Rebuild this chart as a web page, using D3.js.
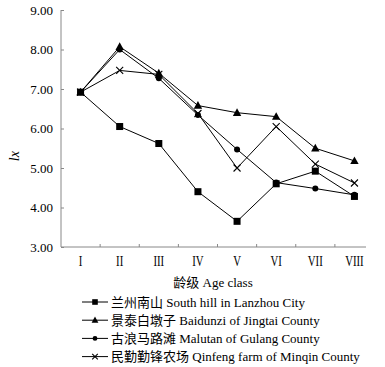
<!DOCTYPE html>
<html>
<head>
<meta charset="utf-8">
<script src="https://cdn.jsdelivr.net/npm/d3@7"></script>
<style>
  body { margin: 0; background: #fff; }
  text { font-family: "Liberation Serif", "Noto Sans CJK SC", serif; fill: #000; }
</style>
</head>
<body>
<div id="chart"></div>
<script>
const W = 385, H = 367;
const margin = {top: 10, left: 61};
const plotW = 313, plotH = 237;

// age classes
const ageClasses = ["I", "II", "III", "IV", "V", "VI", "VII", "VIII"];
const yTicks = [3, 4, 5, 6, 7, 8, 9];

// lx values per site
const lanzhou = [6.92, 6.05, 5.62, 4.40, 3.65, 4.60, 4.92, 4.28];
const jingtai = [6.92, 8.07, 7.40, 6.58, 6.40, 6.30, 5.50, 5.18];
const gulang  = [6.92, 8.00, 7.27, 6.34, 5.47, 4.63, 4.48, 4.32];
const minqin  = [6.92, 7.47, 7.37, 6.38, 5.00, 6.05, 5.10, 4.62];

const seriesNames = [
  "兰州南山 South hill in Lanzhou City",
  "景泰白墩子 Baidunzi of Jingtai County",
  "古浪马路滩 Malutan of Gulang County",
  "民勤勤锋农场 Qinfeng farm of Minqin County"
];
const markers = ["square", "triangle", "circle", "cross"];
const allSeries = [lanzhou, jingtai, gulang, minqin];

const svg = d3.select("#chart").append("svg")
  .attr("width", W).attr("height", H);

const g = svg.append("g").attr("transform", `translate(${margin.left},${margin.top})`);

const x = d3.scaleBand().domain(ageClasses).range([0, plotW]);
const y = d3.scaleLinear().domain([3, 9]).range([plotH, 0]);

// y axis
const yAxis = g.append("g")
  .call(d3.axisLeft(y).tickValues(yTicks).tickFormat(d3.format(".2f")).tickSize(-3).tickPadding(8));
yAxis.select(".domain").attr("stroke", "#888").attr("d", `M0,0V${plotH}`);
yAxis.selectAll(".tick line").attr("stroke", "#888");
yAxis.selectAll("text").style("font-size", "13px").attr("font-family", null);

// x axis with ticks between classes
const xAxis = g.append("g").attr("transform", `translate(0,${plotH})`)
  .call(d3.axisBottom(x).tickSize(0).tickPadding(8));
xAxis.select(".domain").attr("stroke", "#888").attr("d", `M0,0H${plotW - 8}`);
xAxis.selectAll("text").style("font-size", "15px").attr("font-family", null);
xAxis.selectAll(".tick").each(function() {
  const t = d3.select(this);
  const tx = +t.attr("transform").match(/translate\(([^,]+)/)[1];
  t.attr("transform", `translate(${tx},0) scale(0.72,1)`);
});
g.append("g").selectAll("line")
  .data(ageClasses.slice(1))
  .join("line")
  .attr("x1", d => x(d)).attr("x2", d => x(d))
  .attr("y1", plotH).attr("y2", plotH - 3)
  .attr("stroke", "#888");

// axis titles
svg.append("text")
  .attr("transform", `translate(19,${margin.top + y(5.3)}) rotate(-90)`)
  .attr("text-anchor", "middle")
  .style("font-size", "14px").style("font-style", "italic")
  .text("lx");
svg.append("text")
  .attr("x", 213).attr("y", 287)
  .attr("text-anchor", "middle")
  .style("font-size", "13px")
  .text("龄级 Age class");

function drawMarker(sel, type, s) {
  s = s || 1;
  if (type === "square") {
    sel.append("rect").attr("x", -3.5 * s).attr("y", -3.5 * s).attr("width", 7 * s).attr("height", 7 * s).attr("fill", "#000");
  } else if (type === "triangle") {
    sel.append("path").attr("d", `M0,${-4.5 * s}L${4.2 * s},${3.2 * s}L${-4.2 * s},${3.2 * s}Z`).attr("fill", "#000");
  } else if (type === "circle") {
    sel.append("circle").attr("r", 3 * s).attr("fill", "#000");
  } else {
    sel.append("path").attr("d", `M${-3.5 * s},${-3.5 * s}L${3.5 * s},${3.5 * s}M${-3.5 * s},${3.5 * s}L${3.5 * s},${-3.5 * s}`)
      .attr("stroke", "#000").attr("stroke-width", 1.1);
  }
}

const line = d3.line()
  .x((d, i) => x(ageClasses[i]) + x.bandwidth() / 2)
  .y(d => y(d));

allSeries.forEach((vals, k) => {
  g.append("path").datum(vals)
    .attr("d", line)
    .attr("fill", "none").attr("stroke", "#000").attr("stroke-width", 1);
  g.append("g").selectAll("g")
    .data(vals)
    .join("g")
    .attr("transform", (d, i) => `translate(${x(ageClasses[i]) + x.bandwidth() / 2},${y(d)})`)
    .each(function() { drawMarker(d3.select(this), markers[k]); });
});

// legend
const legend = svg.append("g");
seriesNames.forEach((name, k) => {
  const ly = 302 + k * 18.2;
  const row = legend.append("g").attr("transform", `translate(0,${ly})`);
  row.append("line").attr("x1", 82).attr("x2", 108).attr("y1", 0).attr("y2", 0).attr("stroke", "#000");
  drawMarker(row.append("g").attr("transform", "translate(95,0)"), markers[k], 0.8);
  row.append("text").attr("x", 111).attr("y", 4.5).style("font-size", "13px").text(name);
});
</script>
</body>
</html>
